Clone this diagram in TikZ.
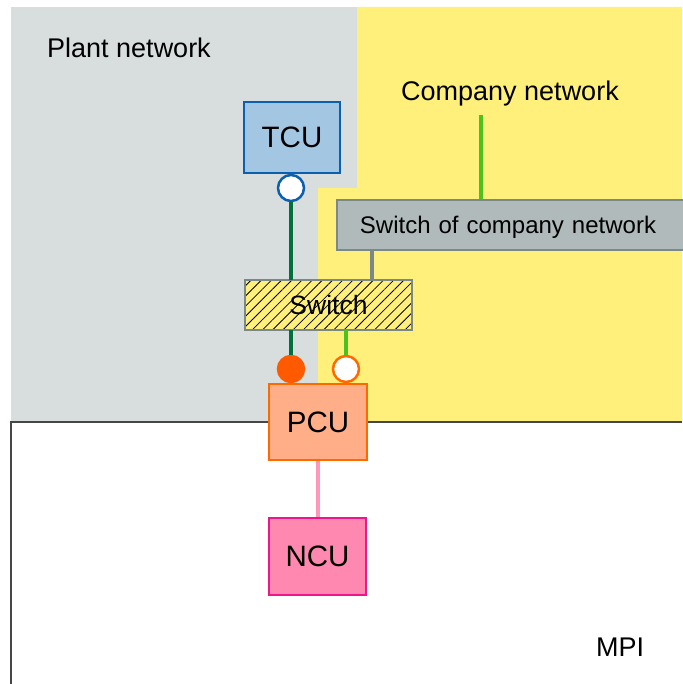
\documentclass[tikz,border=0pt]{standalone}
\usepackage{fontspec}
\setmainfont{Liberation Sans}
\usetikzlibrary{patterns.meta}
\definecolor{plantbg}{RGB}{216,222,222}
\definecolor{compbg}{RGB}{255,240,124}
\definecolor{tcufill}{RGB}{163,199,226}
\definecolor{tculine}{RGB}{10,95,175}
\definecolor{darkgreen}{RGB}{0,112,60}
\definecolor{litegreen}{RGB}{76,194,30}
\definecolor{cswfill}{RGB}{176,186,186}
\definecolor{cswline}{RGB}{122,136,136}
\definecolor{portorange}{RGB}{255,90,0}
\definecolor{pcufill}{RGB}{255,174,136}
\definecolor{pculine}{RGB}{255,106,0}
\definecolor{pinkline}{RGB}{255,153,187}
\definecolor{ncufill}{RGB}{255,136,176}
\definecolor{nculine}{RGB}{240,22,138}
\definecolor{mpiline}{RGB}{70,70,70}
\tikzset{
  unit/.style={draw, line width=2.5pt, minimum width=#1, inner sep=0pt, font=\fontsize{29.5}{34}\selectfont},
  port/.style={circle, line width=2.5pt, minimum size=26pt, inner sep=0pt},
  zone/.style={font=\fontsize{27}{31}\selectfont, inner sep=0pt},
  link/.style={line width=4pt},
}
\begin{document}
\begin{tikzpicture}[x=1pt,y=-1pt]
\useasboundingbox (0,0) rectangle (682,684);
% network zones
\fill[plantbg] (11,7) rectangle (357,422);
\fill[compbg] (357,7) -- (682,7) -- (682,422) -- (318,422) -- (318,188) -- (357,188) -- cycle;
\fill[white] (11,422) rectangle (682,684);
\draw[mpiline, line width=1.5pt] (682,422) -- (11,422) -- (11,684);
% zone labels
\node[zone] (plantlbl) at (129,48) {Plant network};
\node[zone] (complbl) at (510,94) {Company network};
\node[zone] (mpilbl) at (620,647) {MPI};
% devices
\node[unit=96pt, minimum height=71pt, fill=tcufill, draw=tculine] (tcu) at (292,137.5) {TCU};
\node[port, draw=tculine, fill=white] (tcuport) at (291,188) {};
\node[draw=cswline, line width=1.5pt, fill=cswfill, minimum width=350pt, minimum height=50pt, inner sep=0pt,
      text height=17pt, text depth=0pt, align=center, text width=345pt,
      font=\fontsize{24}{28}\selectfont] (csw) at (512,225) {\hspace*{-8pt}Switch of company network};
\node[draw=cswline, line width=1.5pt, minimum width=167pt, minimum height=50pt, inner sep=0pt,
      preaction={fill=compbg},
      pattern={Lines[angle=45, distance=7.2pt, line width=0.8pt]}, pattern color=black,
      font=\fontsize{26.5}{30}\selectfont] (sw) at (328.5,305) {Switch};
\node[port, draw=portorange, fill=portorange] (pcuportA) at (291,369) {};
\node[port, draw=pculine, fill=white] (pcuportB) at (346,369) {};
\node[unit=98pt, minimum height=76pt, fill=pcufill, draw=pculine] (pcu) at (318,422) {PCU};
\node[unit=97pt, minimum height=77pt, fill=ncufill, draw=nculine] (ncu) at (317.5,556.5) {NCU};
% feed points
\coordinate (cnfeed) at (481,115);
\coordinate (cswdrop) at (372,250);
% connections
\draw[link, darkgreen] (tcuport.south) -- (tcuport.south |- sw.north);
\draw[link, darkgreen] (pcuportA.north |- sw.south) -- (pcuportA.north);
\draw[link, litegreen] (pcuportB.north |- sw.south) -- (pcuportB.north);
\draw[link, litegreen] (cnfeed) -- (cnfeed |- csw.north);
\draw[link, cswline] (cswdrop) -- (cswdrop |- sw.north);
\draw[link, pinkline] (pcu.south -| 318,0) -- (ncu.north -| 318,0);
\end{tikzpicture}
\end{document}
